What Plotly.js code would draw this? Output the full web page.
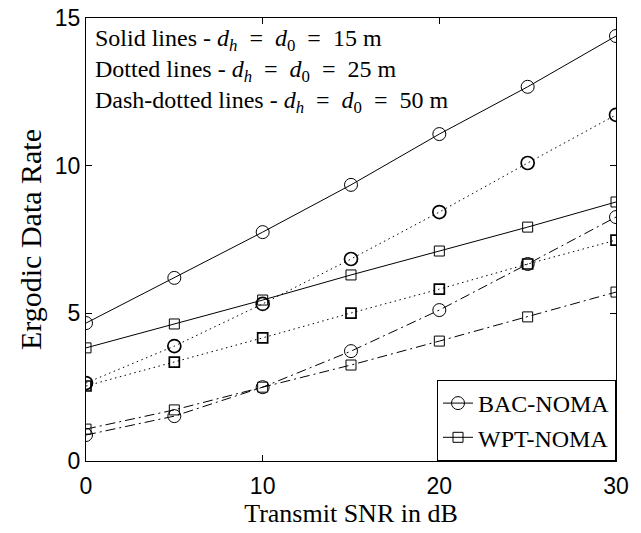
<!DOCTYPE html>
<html><head><meta charset="utf-8">
<script src="https://cdn.plot.ly/plotly-3.0.1.min.js"></script>
<style>body{margin:0;background:#fff}#c{width:641px;height:533px}</style>
</head><body><div id="c"></div>
<script>
const snr = [0, 5, 10, 15, 20, 25, 30];
const bac15 = [4.67, 6.2, 7.75, 9.35, 11.07, 12.67, 14.39];
const wpt15 = [3.83, 4.64, 5.45, 6.3, 7.11, 7.92, 8.77];
const bac25 = [2.64, 3.89, 5.32, 6.84, 8.43, 10.09, 11.72];
const wpt25 = [2.54, 3.35, 4.17, 5.01, 5.82, 6.67, 7.48];
const bac50 = [0.88, 1.52, 2.5, 3.72, 5.11, 6.67, 8.26];
const wpt50 = [1.08, 1.73, 2.5, 3.25, 4.06, 4.88, 5.72];
const xTicks = [0, 10, 20, 30];
const yTicks = [0, 5, 10, 15];
const notes = [
  'Solid lines - <i>d</i><sub><i>h</i></sub>  =  <i>d</i><sub>0</sub>  =  15 m',
  'Dotted lines - <i>d</i><sub><i>h</i></sub>  =  <i>d</i><sub>0</sub>  =  25 m',
  'Dash-dotted lines - <i>d</i><sub><i>h</i></sub>  =  <i>d</i><sub>0</sub>  =  50 m'
];

function tr(y, name, sym, dash, show, mlw) {
  return {x: snr, y: y, name: name, mode: 'lines+markers', showlegend: show,
    line: {color: '#000', width: 1, dash: dash},
    marker: {symbol: sym, size: sym === 'circle-open' ? 13 : 10, color: '#000', line: {width: mlw, color: '#000'}}};
}
const DOT = '1.5px,3.5px';
const DASHDOT = '10px,4px,2px,4px';
const data = [
  tr(bac15, 'BAC-NOMA', 'circle-open', 'solid', true, 1),
  tr(wpt15, 'WPT-NOMA', 'square-open', 'solid', true, 1),
  tr(bac25, 'BAC-NOMA 25', 'circle-open', DOT, false, 1.7),
  tr(wpt25, 'WPT-NOMA 25', 'square-open', DOT, false, 1.7),
  tr(bac50, 'BAC-NOMA 50', 'circle-open', DASHDOT, false, 1),
  tr(wpt50, 'WPT-NOMA 50', 'square-open', DASHDOT, false, 1)
];
const serif = 'Liberation Serif';
const axBase = {showgrid: false, zeroline: false, showline: true, linecolor: '#000', linewidth: 1,
  mirror: 'ticks', ticks: 'inside', ticklen: 6, tickcolor: '#000',
  tickfont: {family: 'Liberation Sans', size: 23, color: '#000'}};
const layout = {
  width: 641, height: 533,
  margin: {l: 86, r: 25, t: 18, b: 72},
  paper_bgcolor: '#fff', plot_bgcolor: '#fff',
  xaxis: Object.assign({}, axBase, {range: [0, 30], tickvals: xTicks, ticklabelstandoff: 4,
    title: {text: 'Transmit SNR in dB', font: {family: serif, size: 26, color: '#000'}, standoff: 0}}),
  yaxis: Object.assign({}, axBase, {range: [0, 15], tickvals: yTicks,
    title: {text: 'Ergodic Data Rate', font: {family: serif, size: 30, color: '#000'}, standoff: 4}}),
  legend: {x: 1, y: 0, xanchor: 'right', yanchor: 'bottom', bgcolor: '#fff', bordercolor: '#000', borderwidth: 1,
    font: {family: serif, size: 24, color: '#000'}, tracegroupgap: 0, itemwidth: 30},
  annotations: [{text: notes.join('<br>'), xref: 'paper', yref: 'paper', x: 0.013, y: 0.988,
    xanchor: 'left', yanchor: 'top', showarrow: false, align: 'left',
    font: {family: serif, size: 24, color: '#000'}}]
};
Plotly.newPlot('c', data, layout, {displayModeBar: false, staticPlot: true});
</script></body></html>
